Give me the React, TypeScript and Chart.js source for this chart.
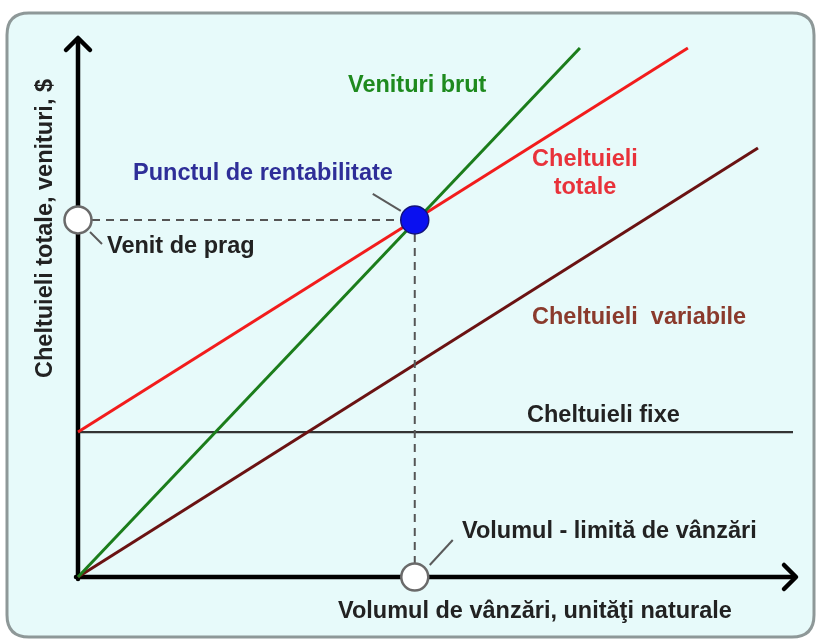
import React, { useEffect, useRef } from "react";
import { Chart, registerables } from "chart.js";

Chart.register(...registerables);

// Data in abstract units (x: sales volume 0..100, y: costs/revenue 0..100)
const fixedCost = 27.4;
const breakEvenX = 47.1;
const breakEvenY = 67.5;
const revenueX = [0, 70.2];
const revenueY = [0, 100];
const totalX = [0, 85.3];
const totalY = [fixedCost, 100];
const variableX = [0, 95.1];
const variableY = [0, 81.1];
const fixedX = [0, 100];
const fixedY = [fixedCost, fixedCost];

const labelRevenue = "Venituri brut";
const labelBreakEven = "Punctul de rentabilitate";
const labelThresholdRevenue = "Venit de prag";
const labelTotal1 = "Cheltuieli";
const labelTotal2 = "totale";
const labelVariable = "Cheltuieli  variabile";
const labelFixed = "Cheltuieli fixe";
const labelThresholdVolume = "Volumul - limită de vânzări";
const xTitle = "Volumul de vânzări, unităţi naturale";
const yTitle = "Cheltuieli totale, venituri, $";

const pts = (xs: number[], ys: number[]) => xs.map((x, i) => ({ x, y: ys[i] }));

const FONT = "bold 23.5px 'Liberation Sans', Arial, sans-serif";

function txt(ctx: CanvasRenderingContext2D, s: string, x: number, y: number, color: string, align: CanvasTextAlign = "left") {
  ctx.save();
  ctx.font = FONT;
  ctx.fillStyle = color;
  ctx.textAlign = align;
  ctx.textBaseline = "alphabetic";
  ctx.fillText(s, x, y);
  ctx.restore();
}

function line(ctx: CanvasRenderingContext2D, x1: number, y1: number, x2: number, y2: number, color: string, w: number) {
  ctx.save();
  ctx.strokeStyle = color;
  ctx.lineWidth = w;
  ctx.beginPath();
  ctx.moveTo(x1, y1);
  ctx.lineTo(x2, y2);
  ctx.stroke();
  ctx.restore();
}

const decorPlugin = {
  id: "decor",
  beforeDraw(chart: any) {
    const ctx: CanvasRenderingContext2D = chart.ctx;
    ctx.save();
    ctx.fillStyle = "#ffffff";
    ctx.fillRect(0, 0, chart.width, chart.height);
    const x = 7, y = 13, w = 807, h = 624, r = 22;
    ctx.beginPath();
    ctx.moveTo(x + r, y);
    ctx.lineTo(x + w - r, y);
    ctx.quadraticCurveTo(x + w, y, x + w, y + r);
    ctx.lineTo(x + w, y + h - r);
    ctx.quadraticCurveTo(x + w, y + h, x + w - r, y + h);
    ctx.lineTo(x + r, y + h);
    ctx.quadraticCurveTo(x, y + h, x, y + h - r);
    ctx.lineTo(x, y + r);
    ctx.quadraticCurveTo(x, y, x + r, y);
    ctx.closePath();
    ctx.fillStyle = "#e7fafa";
    ctx.fill();
    ctx.lineWidth = 3;
    ctx.strokeStyle = "#8e9898";
    ctx.stroke();
    ctx.restore();
  },
  beforeDatasetsDraw(chart: any) {
    const ctx: CanvasRenderingContext2D = chart.ctx;
    const xs = chart.scales.x, ys = chart.scales.y;
    const ox = xs.getPixelForValue(0), oy = ys.getPixelForValue(0);
    ctx.save();
    ctx.lineCap = "round";
    ctx.lineJoin = "round";
    // y axis
    line(ctx, ox, oy + 2, ox, ys.getPixelForValue(100) - 8, "#000", 4.5);
    const ty = ys.getPixelForValue(100) - 10;
    ctx.strokeStyle = "#000";
    ctx.lineWidth = 4.5;
    ctx.beginPath();
    ctx.moveTo(ox - 12, ty + 12);
    ctx.lineTo(ox, ty);
    ctx.lineTo(ox + 12, ty + 12);
    ctx.stroke();
    // x axis
    const tx = xs.getPixelForValue(100) + 3;
    line(ctx, ox - 2, oy, tx - 2, oy, "#000", 4.5);
    ctx.beginPath();
    ctx.moveTo(tx - 12, oy - 12);
    ctx.lineTo(tx, oy);
    ctx.lineTo(tx - 12, oy + 12);
    ctx.stroke();
    ctx.restore();
  },
  afterDatasetsDraw(chart: any) {
    const ctx: CanvasRenderingContext2D = chart.ctx;
    const xs = chart.scales.x, ys = chart.scales.y;
    const bx = xs.getPixelForValue(breakEvenX), by = ys.getPixelForValue(breakEvenY);
    const ox = xs.getPixelForValue(0), oy = ys.getPixelForValue(0);
    // leader lines
    line(ctx, ox + 12, by + 12, ox + 24, by + 24, "#5a5a5a", 2);
    line(ctx, bx - 42, by - 26, bx - 14, by - 9, "#5a5a5a", 2);
    line(ctx, bx + 15, oy - 12, bx + 38, oy - 37, "#5a5a5a", 2);
    // texts
    txt(ctx, labelRevenue, 348, 92, "#1e8a1e");
    txt(ctx, labelBreakEven, 133, 180, "#2e2e98");
    txt(ctx, labelThresholdRevenue, 107, 253, "#222222");
    txt(ctx, labelTotal1, 585, 166, "#e8323a", "center");
    txt(ctx, labelTotal2, 585, 194, "#e8323a", "center");
    txt(ctx, labelVariable, 532, 324, "#8a3a2c");
    txt(ctx, labelFixed, 527, 422, "#222222");
    txt(ctx, labelThresholdVolume, 462, 538, "#222222");
    txt(ctx, xTitle, 338, 618, "#222222");
    // y title rotated
    ctx.save();
    ctx.translate(52, 378);
    ctx.rotate(-Math.PI / 2);
    ctx.font = FONT;
    ctx.fillStyle = "#222222";
    ctx.textBaseline = "alphabetic";
    ctx.textAlign = "left";
    ctx.fillText(yTitle, 0, 0);
    ctx.restore();
  },
};

export default function App() {
  const ref = useRef<HTMLCanvasElement>(null);
  useEffect(() => {
    if (!ref.current) return;
    const chart = new Chart(ref.current, {
      type: "scatter",
      data: {
        datasets: [
          {
            label: "Punctul de rentabilitate",
            data: pts([breakEvenX], [breakEvenY]),
            pointRadius: 14,
            pointBackgroundColor: "#0a10f0",
            pointBorderColor: "#12127a",
            pointBorderWidth: 1.5,
            showLine: false,
            clip: false,
            order: 0,
          } as any,
          {
            label: "markers",
            data: pts([0, breakEvenX], [breakEvenY, 0]),
            pointRadius: 13.5,
            pointBackgroundColor: "#ffffff",
            pointBorderColor: "#6a6a6a",
            pointBorderWidth: 2.5,
            showLine: false,
            clip: false,
            order: 1,
          } as any,
          {
            label: "guide-h",
            data: pts([0, breakEvenX], [breakEvenY, breakEvenY]),
            showLine: true,
            borderColor: "#555555",
            borderWidth: 2,
            borderDash: [8, 6],
            pointRadius: 0,
            clip: false,
            order: 2,
          } as any,
          {
            label: "guide-v",
            data: pts([breakEvenX, breakEvenX], [breakEvenY, 0]),
            showLine: true,
            borderColor: "#555555",
            borderWidth: 2,
            borderDash: [8, 6],
            pointRadius: 0,
            clip: false,
            order: 2,
          } as any,
          {
            label: "Venituri brut",
            data: pts(revenueX, revenueY),
            showLine: true,
            borderColor: "#1b7d1b",
            borderWidth: 3,
            pointRadius: 0,
            clip: false,
            order: 3,
          } as any,
          {
            label: "Cheltuieli totale",
            data: pts(totalX, totalY),
            showLine: true,
            borderColor: "#f21c1c",
            borderWidth: 3,
            pointRadius: 0,
            clip: false,
            order: 4,
          } as any,
          {
            label: "Cheltuieli variabile",
            data: pts(variableX, variableY),
            showLine: true,
            borderColor: "#6a1212",
            borderWidth: 3,
            pointRadius: 0,
            clip: false,
            order: 5,
          } as any,
          {
            label: "Cheltuieli fixe",
            data: pts(fixedX, fixedY),
            showLine: true,
            borderColor: "#333333",
            borderWidth: 2.2,
            pointRadius: 0,
            clip: false,
            order: 6,
          } as any,
        ],
      },
      options: {
        animation: false,
        responsive: false,
        layout: { padding: { left: 78, top: 48, right: 24, bottom: 63 } },
        plugins: {
          legend: { display: false },
          tooltip: { enabled: false },
        },
        scales: {
          x: { type: "linear", min: 0, max: 100, display: false },
          y: { type: "linear", min: 0, max: 100, display: false },
        },
      },
      plugins: [decorPlugin],
    });
    return () => chart.destroy();
  }, []);
  return (
    <div style={{ position: "fixed", left: 0, top: 0, width: 817, height: 640 }}>
      <canvas ref={ref} width={817} height={640} style={{ display: "block" }} />
    </div>
  );
}
